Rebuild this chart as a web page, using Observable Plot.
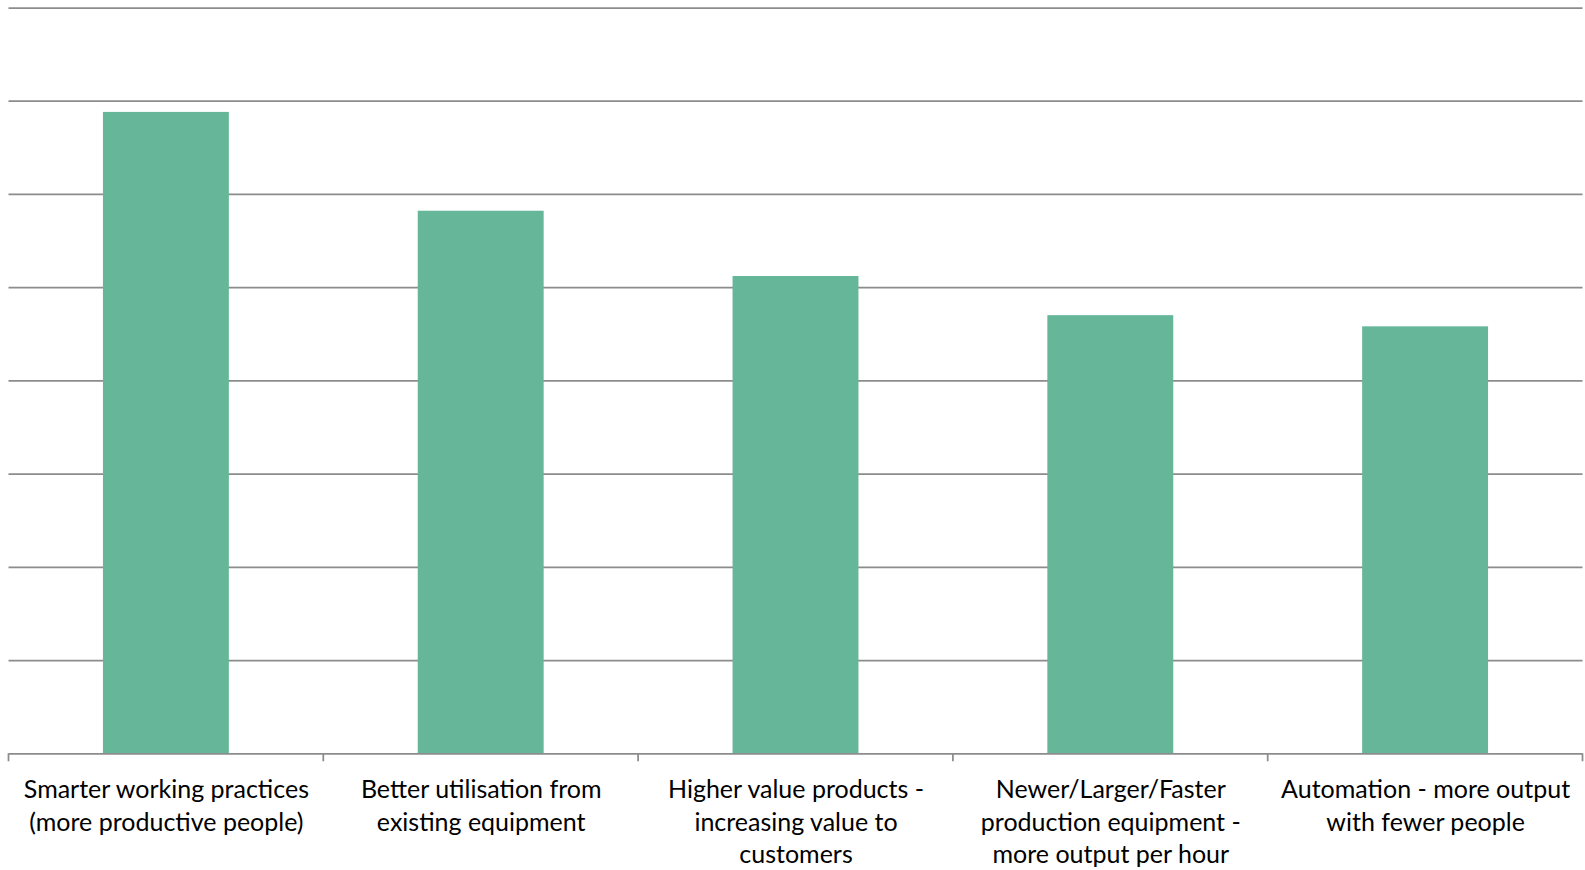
<!DOCTYPE html>
<html>
<head>
<meta charset="utf-8">
<script src="https://cdn.jsdelivr.net/npm/d3@7"></script>
<script src="https://cdn.jsdelivr.net/npm/@observablehq/plot@0.6"></script>
<style>
  html, body { margin: 0; padding: 0; background: #fff; }
  #chart svg { display: block; }
</style>
</head>
<body>
<div id="chart"></div>
<script>
// Productivity improvement routes, share of respondents (%)
const categories = [
  "Smarter working practices (more productive people)",
  "Better utilisation from existing equipment",
  "Higher value products - increasing value to customers",
  "Newer/Larger/Faster production equipment - more output per hour",
  "Automation - more output with fewer people"
];
const tickLabels = [
  "Smarter working practices\n(more productive people)",
  "Better utilisation from\nexisting equipment",
  "Higher value products -\nincreasing value to\ncustomers",
  "Newer/Larger/Faster\nproduction equipment -\nmore output per hour",
  "Automation - more output\nwith fewer people"
];
const shares = [34.4, 29.1, 25.6, 23.5, 22.9];
const gridValues = [5, 10, 15, 20, 25, 30, 35, 40];

const rows = categories.map((c, i) => ({category: c, label: tickLabels[i], share: shares[i]}));

const gridColor = "#8c8c8c";
const fontFamily = "Lato, 'Open Sans', sans-serif";

// Category boundary ticks below the baseline, derived from the band scale
function boundaryTicks(index, scales, values, dimensions) {
  const x = scales.x;
  const gap = x.step() - x.bandwidth();
  const edges = x.domain().map(d => x(d) - gap / 2);
  edges.push(x(x.domain()[x.domain().length - 1]) + x.bandwidth() + gap / 2);
  const y0 = dimensions.height - dimensions.marginBottom;
  const g = d3.create("svg:g").attr("stroke", gridColor).attr("stroke-width", 1.75);
  g.selectAll("line").data(edges).join("line")
    .attr("x1", d => d).attr("x2", d => d)
    .attr("y1", y0).attr("y2", y0 + 8);
  return g.node();
}

const chart = Plot.plot({
  width: 1585,
  height: 870,
  marginLeft: 8.5,
  marginRight: 2.5,
  marginTop: 7.5,
  marginBottom: 116.7,
  style: {fontFamily, background: "#fff"},
  x: {domain: categories, paddingInner: 0.6, paddingOuter: 0.3, round: false, axis: null},
  y: {domain: [0, 40], axis: null},
  marks: [
    Plot.ruleY(gridValues, {stroke: gridColor, strokeWidth: 1.75}),
    Plot.barY(rows, {x: "category", y: "share", fill: "#66b79a"}),
    Plot.ruleY([0], {stroke: gridColor, strokeWidth: 1.75}),
    boundaryTicks,
    Plot.text(rows, {
      x: "category",
      text: "label",
      frameAnchor: "bottom",
      lineAnchor: "top",
      dy: 20.5,
      fontSize: 25,
      lineHeight: 1.316,
      fill: "#000"
    })
  ]
});

document.getElementById("chart").append(chart);
</script>
</body>
</html>
